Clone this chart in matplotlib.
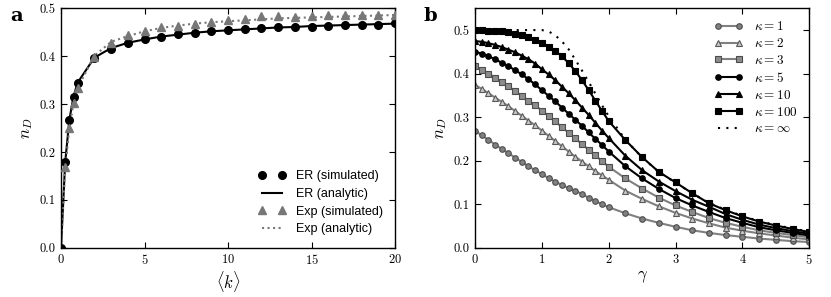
import matplotlib
matplotlib.use('Agg')
import matplotlib.pyplot as plt

plt.rcParams['mathtext.fontset'] = 'cm'
plt.rcParams['font.family'] = 'serif'
plt.rcParams['font.serif'] = ['cmr10', 'DejaVu Serif']
plt.rcParams['axes.formatter.use_mathtext'] = True

# panel a: nD vs mean degree
k_vals = [0, 0.25, 0.5, 0.75, 1, 2, 3, 4, 5, 6, 7, 8, 9, 10, 11, 12, 13, 14, 15, 16, 17, 18, 19, 20]
er_sim = [0.0, 0.180, 0.267, 0.315, 0.345, 0.396, 0.416, 0.427, 0.435, 0.441, 0.446, 0.449, 0.452, 0.455,
          0.457, 0.458, 0.460, 0.462, 0.462, 0.464, 0.466, 0.466, 0.465, 0.469]
er_analytic = [0.0, 0.178, 0.267, 0.316, 0.345, 0.397, 0.417, 0.428, 0.435, 0.441, 0.445, 0.449, 0.452, 0.454,
               0.456, 0.458, 0.460, 0.461, 0.463, 0.464, 0.465, 0.466, 0.467, 0.468]
exp_sim = [0.0, 0.168, 0.249, 0.302, 0.333, 0.398, 0.428, 0.444, 0.453, 0.462, 0.464, 0.467, 0.472, 0.475,
           0.477, 0.483, 0.483, 0.481, 0.483, 0.485, 0.485, 0.487, 0.485, 0.485]
exp_analytic = [0.0, 0.165, 0.250, 0.302, 0.334, 0.401, 0.430, 0.442, 0.452, 0.459, 0.464, 0.468, 0.471, 0.473,
                0.475, 0.477, 0.479, 0.480, 0.481, 0.482, 0.483, 0.484, 0.485, 0.486]

# panel b: nD vs gamma for several kappa
gamma = [0.0, 0.1, 0.2, 0.3, 0.4, 0.5, 0.6, 0.7, 0.8, 0.9, 1.0, 1.1, 1.2, 1.3, 1.4, 1.5, 1.6, 1.7, 1.8, 1.9, 2.0,
         2.25, 2.5, 2.75, 3.0, 3.25, 3.5, 3.75, 4.0, 4.25, 4.5, 4.75, 5.0]
kappa_labels = ['1', '2', '3', '5', '10', '100']
nd_k1 = [0.269, 0.258, 0.248, 0.237, 0.227, 0.217, 0.207, 0.197, 0.187, 0.178, 0.169, 0.160, 0.152, 0.144,
         0.137, 0.131, 0.123, 0.115, 0.107, 0.100, 0.093,
         0.079, 0.067, 0.057, 0.048, 0.040, 0.034, 0.029, 0.025, 0.021, 0.018, 0.015, 0.013]
nd_k2 = [0.374, 0.365, 0.355, 0.345, 0.335, 0.325, 0.314, 0.303, 0.292, 0.281, 0.269, 0.257, 0.245, 0.233,
         0.221, 0.209, 0.198, 0.187, 0.176, 0.166, 0.156,
         0.131, 0.112, 0.095, 0.080, 0.067, 0.056, 0.046, 0.039, 0.033, 0.028, 0.023, 0.019]
nd_k3 = [0.418, 0.409, 0.400, 0.391, 0.381, 0.371, 0.360, 0.349, 0.338, 0.327, 0.315, 0.303, 0.290, 0.277,
         0.264, 0.251, 0.238, 0.225, 0.212, 0.199, 0.186,
         0.159, 0.136, 0.115, 0.097, 0.082, 0.068, 0.057, 0.048, 0.040, 0.034, 0.029, 0.024]
nd_k5 = [0.450, 0.446, 0.440, 0.433, 0.425, 0.417, 0.408, 0.398, 0.387, 0.375, 0.362, 0.349, 0.336, 0.322,
         0.308, 0.294, 0.280, 0.265, 0.250, 0.236, 0.221,
         0.187, 0.159, 0.135, 0.114, 0.097, 0.082, 0.068, 0.057, 0.047, 0.040, 0.034, 0.028]
nd_k10 = [0.475, 0.473, 0.470, 0.466, 0.461, 0.455, 0.449, 0.441, 0.433, 0.423, 0.410, 0.398, 0.385, 0.370,
          0.355, 0.339, 0.322, 0.305, 0.287, 0.269, 0.252,
          0.211, 0.178, 0.152, 0.130, 0.110, 0.094, 0.077, 0.064, 0.053, 0.045, 0.038, 0.032]
nd_k100 = [0.500, 0.500, 0.499, 0.498, 0.497, 0.495, 0.492, 0.489, 0.484, 0.478, 0.471, 0.462, 0.452, 0.440,
           0.424, 0.406, 0.385, 0.362, 0.338, 0.314, 0.291,
           0.247, 0.208, 0.174, 0.150, 0.125, 0.102, 0.086, 0.072, 0.060, 0.051, 0.043, 0.036]
gamma_inf = [0.0, 0.5, 1.0, 1.1, 1.2, 1.3, 1.4, 1.5, 1.6, 1.7, 1.8, 1.9, 2.0,
             2.25, 2.5, 2.75, 3.0, 3.25, 3.5, 3.75, 4.0, 4.25, 4.5, 4.75, 5.0]
nd_inf = [0.500, 0.500, 0.500, 0.497, 0.488, 0.474, 0.456, 0.432, 0.407, 0.381, 0.354, 0.327, 0.302,
          0.248, 0.207, 0.174, 0.149, 0.125, 0.103, 0.087, 0.073, 0.061, 0.052, 0.044, 0.037]

fig = plt.figure(figsize=(8.31, 2.97), dpi=100)
ax1 = fig.add_axes([0.0734, 0.166, 0.402, 0.806])
ax2 = fig.add_axes([0.5716, 0.166, 0.4023, 0.806])

gray = '#777777'
ax1.plot(k_vals, er_analytic, color='k', lw=1.5, label='ER (analytic)', zorder=2)
ax1.plot(k_vals, exp_analytic, color=gray, lw=1.5, ls=':', label='Exp (analytic)', zorder=2)
ax1.plot(k_vals, er_sim, 'o', color='k', ms=5.5, label='ER (simulated)', zorder=3)
ax1.plot(k_vals[1:], exp_sim[1:], '^', color=gray, mec=gray, ms=5.5, label='Exp (simulated)', zorder=3)
ax1.set_xlim(0, 20)
ax1.set_ylim(0, 0.5)
ax1.set_xticks([0, 5, 10, 15, 20])
ax1.set_yticks([0.0, 0.1, 0.2, 0.3, 0.4, 0.5])
ax1.set_yticklabels(['0.0', '0.1', '0.2', '0.3', '0.4', '0.5'])
ax1.set_xlabel(r'$\langle k\rangle$', fontsize=12, labelpad=1)
ax1.set_ylabel(r'$n_D$', fontsize=12, labelpad=3)
h, l = ax1.get_legend_handles_labels()
order = [2, 0, 3, 1]
ax1.legend([h[i] for i in order], [l[i] for i in order], loc='lower right', frameon=False, numpoints=2,
           prop={'family': 'Liberation Sans', 'size': 9}, handlelength=2.2, labelspacing=0.45,
           borderaxespad=0.6)

styles = [
    (nd_k1, 'o', '0.5', '0.5', '0.3', 4.0),
    (nd_k2, '^', '0.5', '0.78', '0.35', 4.2),
    (nd_k3, 's', '0.5', '0.55', '0.3', 4.2),
    (nd_k5, 'o', 'k', 'k', 'k', 4.0),
    (nd_k10, '^', 'k', 'k', 'k', 4.2),
    (nd_k100, 's', 'k', 'k', 'k', 4.6),
]
for (vals, mk, lc, fc, ec, ms), lab in zip(styles, kappa_labels):
    ax2.plot(gamma, vals, marker=mk, color=lc, mfc=fc, mec=ec, ms=ms, mew=0.8, lw=1.5,
             label=r'$\kappa = %s$' % lab)
ax2.plot(gamma_inf, nd_inf, color='k', ls=(0, (1, 3)), lw=1.5, label=r'$\kappa = \infty$')
ax2.set_xlim(0, 5)
ax2.set_ylim(0, 0.55)
ax2.set_xticks([0, 1, 2, 3, 4, 5])
ax2.set_yticks([0.0, 0.1, 0.2, 0.3, 0.4, 0.5])
ax2.set_yticklabels(['0.0', '0.1', '0.2', '0.3', '0.4', '0.5'])
ax2.set_xlabel(r'$\gamma$', fontsize=12, labelpad=1)
ax2.set_ylabel(r'$n_D$', fontsize=12, labelpad=3)
ax2.legend(loc='upper right', frameon=False, numpoints=2, fontsize=9.5, handlelength=2.2,
           labelspacing=0.3, borderaxespad=0.5)

for ax in (ax1, ax2):
    ax.tick_params(direction='in', top=True, right=True, length=4, width=0.8, labelsize=9, pad=4)
    for sp in ax.spines.values():
        sp.set_linewidth(1.0)

fig.text(0.012, 0.93, 'a', fontsize=14, fontweight='bold', family='DejaVu Serif')
fig.text(0.510, 0.93, 'b', fontsize=14, fontweight='bold', family='DejaVu Serif')

fig.savefig('out.png', dpi=100)
